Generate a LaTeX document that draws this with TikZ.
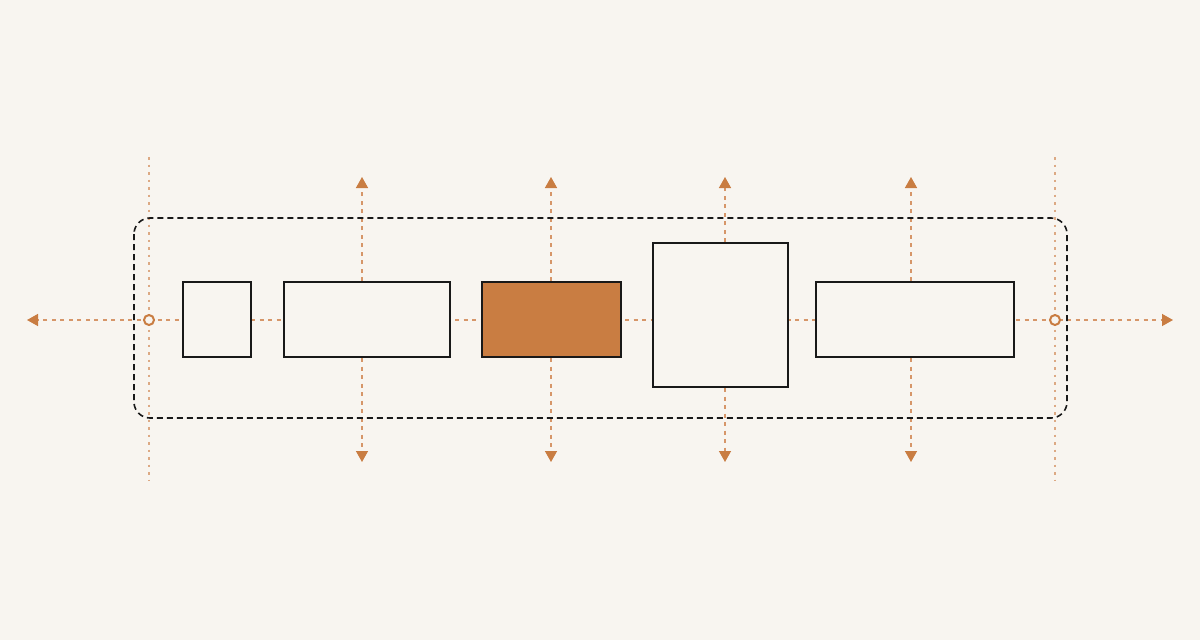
\documentclass[tikz,border=0pt]{standalone}
\usetikzlibrary{arrows.meta}
\definecolor{bg}{RGB}{248,245,240}
\definecolor{accent}{RGB}{201,125,66}
\definecolor{guidecol}{RGB}{214,150,105}
\definecolor{ink}{RGB}{25,25,25}
\tikzset{
  boxnode/.style={draw=ink, line width=2pt, fill=bg, inner sep=0pt, minimum width=#1},
  guide/.style={draw=guidecol, line width=1.4pt, dash pattern=on 4pt off 4.5pt},
  outerguide/.style={draw=guidecol, draw opacity=0.8, line width=1.2pt, dash pattern=on 2.5pt off 5pt},
  tip/.style={-{Triangle[length=11pt,width=12pt,color=accent]}},
  frame/.style={draw=ink, line width=1.6pt, dash pattern=on 6pt off 4pt, rounded corners=16pt},
  marker/.style={circle, draw=accent, line width=2pt, fill=bg, minimum size=10pt, inner sep=0pt}
}
\begin{document}
\begin{tikzpicture}[x=1pt,y=-1pt]
\fill[bg] (0,0) rectangle (1200,640);
\useasboundingbox (0,0) rectangle (1200,640);
% coordinates
\coordinate (L) at (27,320);
\coordinate (R) at (1173,320);
\coordinate (lt) at (149,157);
\coordinate (lb) at (149,481);
\coordinate (rt) at (1055,157);
\coordinate (rb) at (1055,481);
\coordinate (u2) at (362,177);
\coordinate (d2) at (362,462);
\coordinate (u3) at (551,177);
\coordinate (d3) at (551,462);
\coordinate (u4) at (725,177);
\coordinate (d4) at (725,462);
\coordinate (u5) at (911,177);
\coordinate (d5) at (911,462);
% outer guides
\draw[outerguide] (lt) -- (lb);
\draw[outerguide] (rt) -- (rb);
% boxes (invisible first, for anchors)
\path
  node[boxnode=68pt, minimum height=75pt, draw=none, fill=none] (b1) at (217,319.5) {}
  node[boxnode=166pt, minimum height=75pt, draw=none, fill=none] (b2) at (366.5,319.5) {}
  node[boxnode=139pt, minimum height=75pt, draw=none, fill=none] (b3) at (551.5,319.5) {}
  node[boxnode=135pt, minimum height=144pt, draw=none, fill=none] (b4) at (720.5,315) {}
  node[boxnode=198pt, minimum height=75pt, draw=none, fill=none] (b5) at (915,319.5) {};
% axis
\draw[guide, tip] (149,320) -- (L);
\draw[guide, tip] (149,320) -- (R);
% vertical arrows
\draw[guide, tip] (u2 |- b2.north) -- (u2);
\draw[guide, tip] (d2 |- b2.south) -- (d2);
\draw[guide, tip] (u3 |- b3.north) -- (u3);
\draw[guide, tip] (d3 |- b3.south) -- (d3);
\draw[guide, tip] (u4 |- b4.north) -- (u4);
\draw[guide, tip] (d4 |- b4.south) -- (d4);
\draw[guide, tip] (u5 |- b5.north) -- (u5);
\draw[guide, tip] (d5 |- b5.south) -- (d5);
% frame
\draw[frame] (134,218) rectangle (1067,418);
% visible boxes
\node[boxnode=68pt, minimum height=75pt] at (b1) {};
\node[boxnode=166pt, minimum height=75pt] at (b2) {};
\node[boxnode=139pt, minimum height=75pt, fill=accent] at (b3) {};
\node[boxnode=135pt, minimum height=144pt] at (b4) {};
\node[boxnode=198pt, minimum height=75pt] at (b5) {};
% markers
\node[marker] (ml) at (149,320) {};
\node[marker] (mr) at (1055,320) {};
\end{tikzpicture}
\end{document}
